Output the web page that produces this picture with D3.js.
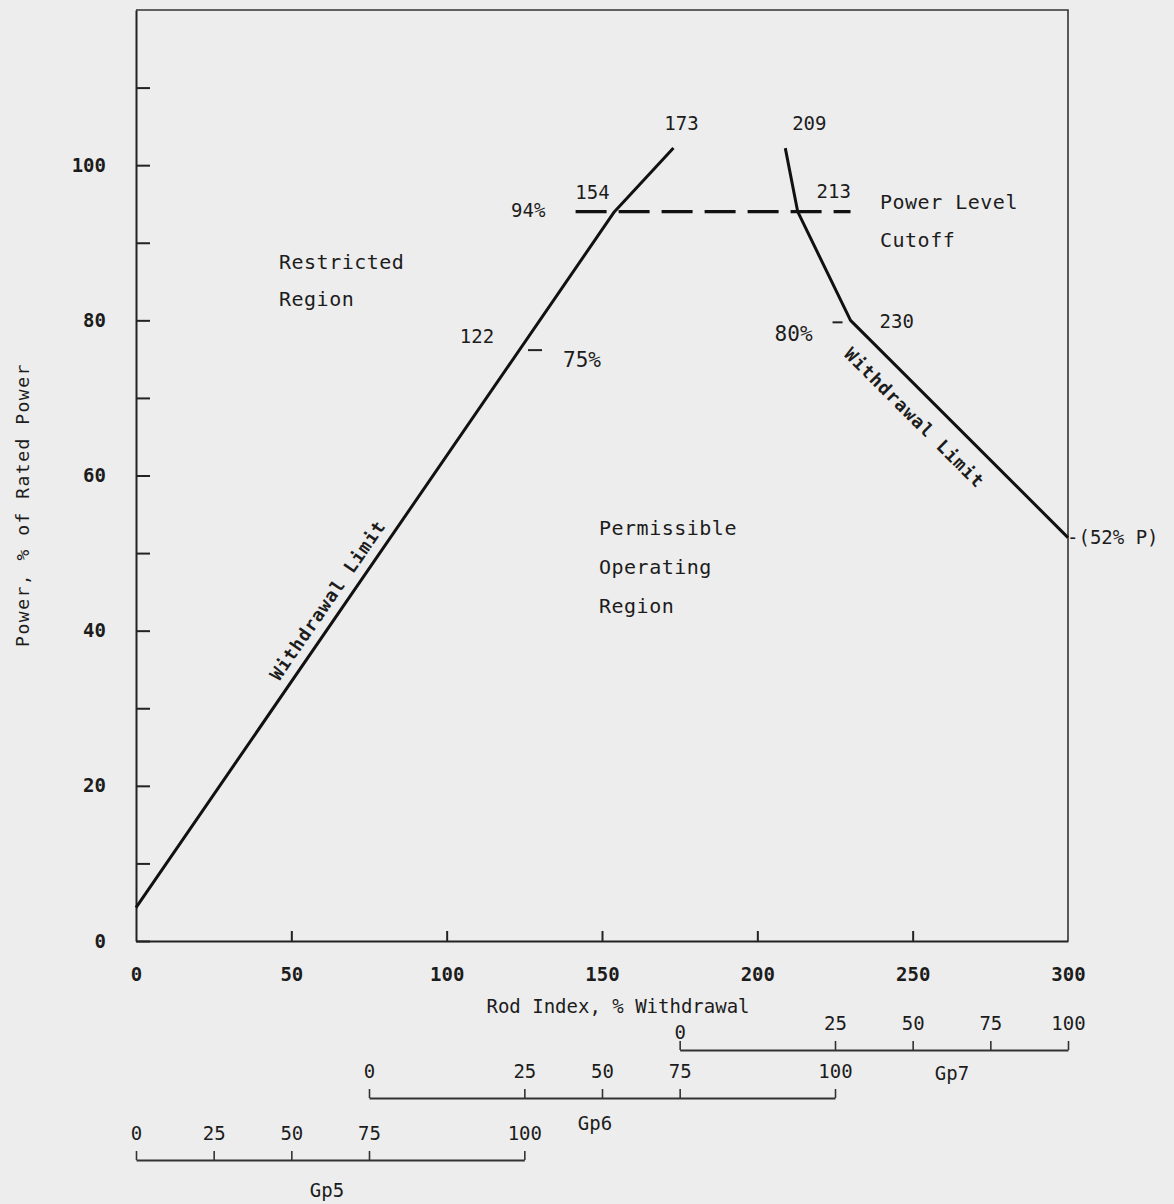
<!DOCTYPE html>
<html>
<head>
<meta charset="utf-8">
<script src="https://cdn.jsdelivr.net/npm/d3@7"></script>
<style>
  body { margin: 0; background: #ededed; }
  svg { display: block; }
  text { font-family: "DejaVu Sans Mono", monospace; fill: #1c1c1c; }
</style>
</head>
<body>
<div id="chart"></div>
<script>
// Chart values
var rodTicks = [0, 50, 100, 150, 200, 250, 300];
var powerTicks = [0, 10, 20, 30, 40, 50, 60, 70, 80, 90, 100, 110];
var powerLabels = [0, 20, 40, 60, 80, 100];

// withdrawal limit, left branch (rod index, % power)
var leftRod = [0, 154, 173];
var leftPower = [4.3, 94, 102.2];
// withdrawal limit, right branch
var rightRod = [209, 213, 230, 300];
var rightPower = [102.2, 94, 80, 52];

// power level cutoff (dashed)
var cutoffPower = 94;
var cutoffRod = [141.5, 230];

// group scales under the main axis
var groupNames = ["Gp5", "Gp6", "Gp7"];
var groupTicks = [0, 25, 50, 75, 100];
var groupRod = [
  [0, 25, 50, 75, 125],
  [75, 125, 150, 175, 225],
  [175, 225, 250, 275, 300]
];

var W = 1174, H = 1204;

var svg = d3.select("#chart").append("svg")
    .attr("width", W)
    .attr("height", H);

var x = d3.scaleLinear().domain([0, 300]).range([136, 1068]);
var y = d3.scaleLinear().domain([0, 120]).range([941, 10]);

// frame top / right
svg.append("path")
    .attr("d", "M" + x(0) + "," + y(120) + "H" + x(300) + "V" + y(0))
    .attr("fill", "none")
    .attr("stroke", "#333")
    .attr("stroke-width", 1.6);

// Y axis (ticks inward)
var yAxis = svg.append("g")
    .attr("transform", "translate(" + x(0) + ",0)")
    .call(d3.axisLeft(y)
        .tickValues(powerTicks)
        .tickSize(-14)
        .tickSizeOuter(0)
        .tickPadding(30)
        .tickFormat(d => powerLabels.indexOf(d) >= 0 ? d : ""));
yAxis.select(".domain").attr("stroke", "#222").attr("stroke-width", 2);
yAxis.selectAll(".tick line").attr("stroke", "#222").attr("stroke-width", 2);
yAxis.selectAll("text")
    .style("font-size", "19px")
    .style("font-weight", "bold")
    .attr("fill", "#1c1c1c");

// X axis (ticks inward)
var xAxis = svg.append("g")
    .attr("transform", "translate(0," + y(0) + ")")
    .call(d3.axisBottom(x)
        .tickValues(rodTicks)
        .tickSize(-10)
        .tickSizeOuter(0)
        .tickPadding(27));
xAxis.select(".domain").attr("stroke", "#222").attr("stroke-width", 2.2);
xAxis.selectAll(".tick line").attr("stroke", "#222").attr("stroke-width", 2)
    .filter(d => d === 0 || d === 300).remove();
xAxis.selectAll("text")
    .style("font-size", "19px")
    .style("font-weight", "bold")
    .attr("fill", "#1c1c1c");

// axis titles
svg.append("text")
    .attr("x", 618)
    .attr("y", 1013)
    .attr("text-anchor", "middle")
    .style("font-size", "19px")
    .text("Rod Index, % Withdrawal");

svg.append("text")
    .attr("transform", "translate(29,505) rotate(-90)")
    .attr("text-anchor", "middle")
    .style("font-size", "18px")
    .style("letter-spacing", "1.5px")
    .text("Power, % of Rated Power");

// withdrawal limit lines
var line = d3.line().x(d => x(d[0])).y(d => y(d[1]));
var leftPts = leftRod.map((r, i) => [r, leftPower[i]]);
var rightPts = rightRod.map((r, i) => [r, rightPower[i]]);

svg.append("path")
    .datum(leftPts)
    .attr("d", line)
    .attr("fill", "none")
    .attr("stroke", "#111")
    .attr("stroke-width", 3)
    .attr("stroke-linejoin", "round");

svg.append("path")
    .datum(rightPts)
    .attr("d", line)
    .attr("fill", "none")
    .attr("stroke", "#111")
    .attr("stroke-width", 3)
    .attr("stroke-linejoin", "round");

// power level cutoff
svg.append("line")
    .attr("x1", x(cutoffRod[0]))
    .attr("x2", x(cutoffRod[1]))
    .attr("y1", y(cutoffPower))
    .attr("y2", y(cutoffPower))
    .attr("stroke", "#111")
    .attr("stroke-width", 3.2)
    .attr("stroke-dasharray", "31,12");

// "Withdrawal Limit" labels along the lines
function lineLabel(p0, p1, t, offset) {
    var x0 = x(p0[0]), y0 = y(p0[1]), x1 = x(p1[0]), y1 = y(p1[1]);
    var ang = Math.atan2(y1 - y0, x1 - x0) * 180 / Math.PI;
    var cx = x0 + (x1 - x0) * t, cy = y0 + (y1 - y0) * t;
    svg.append("text")
        .attr("transform", "translate(" + cx + "," + cy + ") rotate(" + ang + ")")
        .attr("y", offset)
        .attr("text-anchor", "middle")
        .style("font-size", "18px")
        .style("font-weight", "bold")
        .style("letter-spacing", "1px")
        .text("Withdrawal Limit");
}
lineLabel(leftPts[0], leftPts[1], 66 / 154, -10);
lineLabel(rightPts[2], rightPts[3], 26 / 70, 30);

// point annotations
function label(px, py, t, anchor, size) {
    svg.append("text")
        .attr("x", px)
        .attr("y", py)
        .attr("text-anchor", anchor || "start")
        .style("font-size", (size || 19) + "px")
        .text(t);
}
label(x(173) + 8, y(102.2) - 18, "173", "middle");
label(x(209) + 24, y(102.2) - 18, "209", "middle");
label(x(154) - 22, y(94) - 13, "154", "middle");
label(x(154) - 69, y(94) + 5, "94%", "end");
label(x(213) + 36, y(94) - 14, "213", "middle");
label(x(122) - 38, y(75) - 16, "122", "middle");
label(x(122) + 48, y(75) + 8, "75%", "start", 21);
label(x(230) - 38, y(80) + 21, "80%", "end", 21);
label(x(230) + 29, y(80) + 8, "230", "start");
label(x(300) - 1, y(52) + 6, "-(52% P)", "start");

// small marks
svg.append("line")
    .attr("x1", x(122) + 13).attr("x2", x(122) + 27)
    .attr("y1", y(75) - 9).attr("y2", y(75) - 9)
    .attr("stroke", "#222").attr("stroke-width", 2);
svg.append("line")
    .attr("x1", x(230) - 18).attr("x2", x(230) - 8)
    .attr("y1", y(80) + 2).attr("y2", y(80) + 2)
    .attr("stroke", "#222").attr("stroke-width", 2);

// region labels
function block(px, py, lines, gap) {
    lines.forEach((t, i) => {
        svg.append("text")
            .attr("x", px)
            .attr("y", py + i * gap)
            .style("font-size", "20px")
            .style("letter-spacing", "0.5px")
            .text(t);
    });
}
block(279, 269, ["Restricted", "Region"], 37);
block(599, 535, ["Permissible", "Operating", "Region"], 39);
block(880, 209, ["Power Level", "Cutoff"], 38);

// group brackets
var groupY = [1160, 1098, 1050];
var groupNameXY = [[327, 1197], [595, 1130], [952, 1080]];

groupNames.forEach((name, gi) => {
    var gs = d3.scaleLinear()
        .domain(groupTicks)
        .range(groupRod[gi].map(x));
    var g = svg.append("g")
        .attr("transform", "translate(0," + groupY[gi] + ")")
        .call(d3.axisTop(gs)
            .tickValues(groupTicks)
            .tickSize(9)
            .tickSizeOuter(0)
            .tickPadding(11));
    g.select(".domain").attr("stroke", "#333").attr("stroke-width", 2);
    g.selectAll(".tick line").attr("stroke", "#333").attr("stroke-width", 1.6);
    g.selectAll("text")
        .style("font-size", "19px")
        .attr("fill", "#1c1c1c");
    if (name === "Gp7") {
        g.selectAll("text").filter(d => d === 0).attr("dy", "0.45em");
    }
    svg.append("text")
        .attr("x", groupNameXY[gi][0])
        .attr("y", groupNameXY[gi][1])
        .attr("text-anchor", "middle")
        .style("font-size", "19px")
        .text(name);
});
</script>
</body>
</html>
